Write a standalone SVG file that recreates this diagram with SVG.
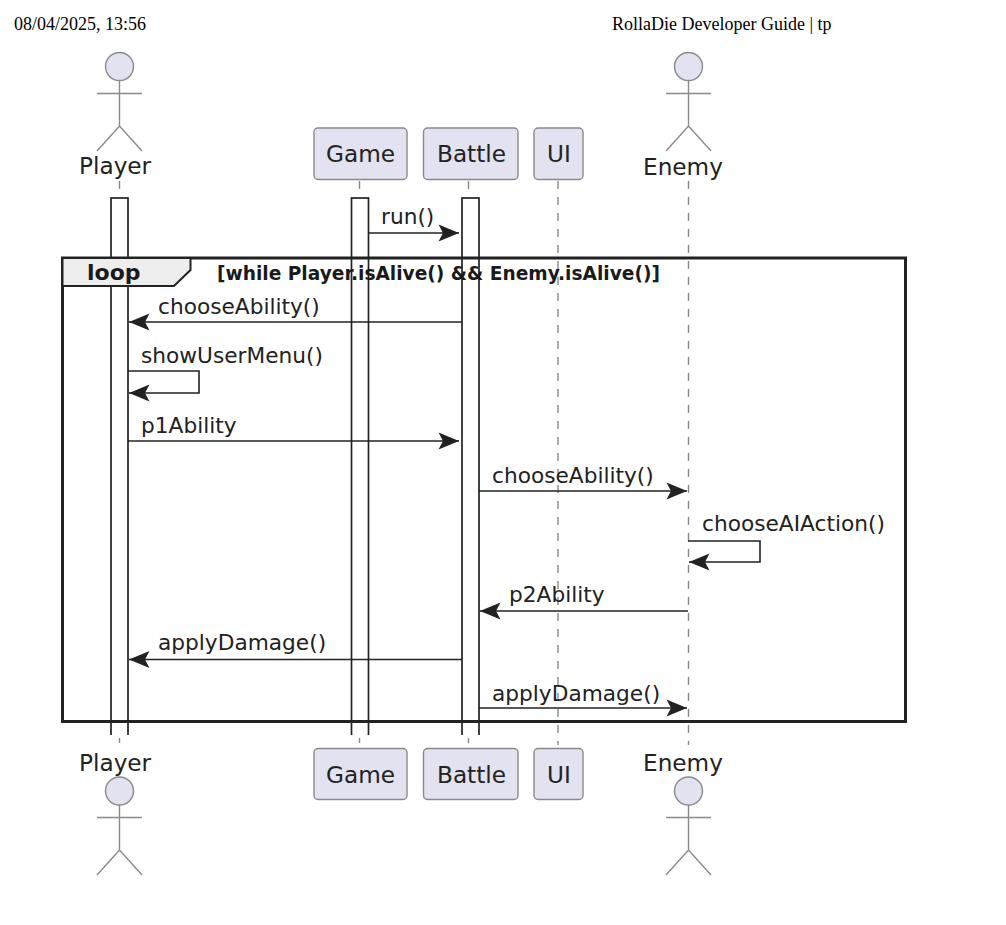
<svg xmlns="http://www.w3.org/2000/svg" width="1006" height="925" viewBox="0 0 1006 925">
<style>
text{font-family:"DejaVu Sans",sans-serif;fill:#1a1a1a}
.hd{font-family:"Liberation Serif",serif;font-size:18px;fill:#000}
.nm{font-size:23.2px;fill:#222}
.msg{font-size:21.7px;fill:#222}
.box{fill:#e2e2f0;stroke:#8a8a8a;stroke-width:1.4}
.act{fill:none;stroke:#8a8a8a;stroke-width:1.4}
.ll{fill:none;stroke:#8a8a8a;stroke-width:1.4;stroke-dasharray:8 8}
.av{fill:#fff;stroke:#222;stroke-width:1.7}
.ar{fill:none;stroke:#222;stroke-width:1.6}
</style>
<defs>
<marker id="ah" markerUnits="userSpaceOnUse" markerWidth="24" markerHeight="20" refX="21" refY="9.500" orient="auto-start-reverse" viewBox="0 0 24 20"><path d="M0.500 1L21 9.500L0.500 18L5 9.500Z" fill="#222"/></marker>
</defs>
<text class="hd" x="14" y="30">08/04/2025, 13:56</text>
<text class="hd" x="612" y="30">RollaDie Developer Guide | tp</text>
<g id="lifelines">
<path class="ll" d="M119.500 181V190M359.500 181V190M468.500 181V190M558 181V745M688.500 181V745M119.500 737V743M359.500 737V743M468.500 737V743"/>
</g>
<g id="activations">
<rect class="av" x="111" y="198" width="17" height="538"/>
<rect class="av" x="351.500" y="198" width="17" height="538"/>
<rect class="av" x="462" y="198" width="17" height="538"/>
<path fill="#fff" d="M109 735h21v3h-21zM350 735h20v3h-20zM461 735h20v3h-20z"/>
</g>
<g id="loop">
<rect x="62.500" y="258" width="843" height="463.500" fill="none" stroke="#222" stroke-width="3"/>
<path d="M62.500 258H190.500V270L174 286H62.500Z" fill="#eee" stroke="#222" stroke-width="2"/>
<text x="87" y="280" font-size="22" font-weight="700">loop</text>
<text x="217" y="280" font-size="18.600" font-weight="700">[while Player.isAlive() &amp;&amp; Enemy.isAlive()]</text>
</g>
<g id="connectors">
<path class="ar" marker-end="url(#ah)" d="M368.500 233H459"/>
<path class="ar" marker-end="url(#ah)" d="M462 322H129"/>
<path class="ar" marker-end="url(#ah)" d="M128 371H199V393H129"/>
<path class="ar" marker-end="url(#ah)" d="M128 441H459"/>
<path class="ar" marker-end="url(#ah)" d="M479 491H687"/>
<path class="ar" marker-end="url(#ah)" d="M688 541H760V562H689"/>
<path class="ar" marker-end="url(#ah)" d="M688 611H480"/>
<path class="ar" marker-end="url(#ah)" d="M462 659.500H129"/>
<path class="ar" marker-end="url(#ah)" d="M479 708H687"/>
<text class="msg" x="381" y="224">run()</text>
<text class="msg" x="158" y="314">chooseAbility()</text>
<text class="msg" x="141" y="363">showUserMenu()</text>
<text class="msg" x="141" y="433">p1Ability</text>
<text class="msg" x="492" y="483">chooseAbility()</text>
<text class="msg" x="702" y="531">chooseAIAction()</text>
<text class="msg" x="509" y="602">p2Ability</text>
<text class="msg" x="158" y="650">applyDamage()</text>
<text class="msg" x="492" y="701">applyDamage()</text>
</g>
<g id="player-top">
<circle class="box" cx="119.500" cy="66.500" r="14"/>
<path class="act" d="M119.500 80.500V126M97 93.500H142M97 151L119.500 126L142 151"/>
<text class="nm" x="79" y="174">Player</text>
</g>
<g id="game-top"><rect class="box" x="314" y="128" width="93" height="51.500" rx="4"/><text class="nm" x="326" y="162">Game</text></g>
<g id="battle-top"><rect class="box" x="423.500" y="128" width="94.500" height="51.500" rx="4"/><text class="nm" x="437" y="162">Battle</text></g>
<g id="ui-top"><rect class="box" x="534" y="128" width="49" height="51.500" rx="4"/><text class="nm" x="547" y="162">UI</text></g>
<g id="enemy-top">
<circle class="box" cx="688.500" cy="66.500" r="14"/>
<path class="act" d="M688.500 80.500V126M666 93.500H711M666 151L688.500 126L711 151"/>
<text class="nm" x="643" y="175">Enemy</text>
</g>
<g id="player-bottom">
<text class="nm" x="79" y="771">Player</text>
<circle class="box" cx="119.500" cy="791" r="14"/>
<path class="act" d="M119.500 805V850M97 817.500H142M97 875L119.500 850L142 875"/>
</g>
<g id="game-bottom"><rect class="box" x="314" y="748.500" width="93" height="51" rx="4"/><text class="nm" x="326" y="783">Game</text></g>
<g id="battle-bottom"><rect class="box" x="423.500" y="748.500" width="94.500" height="51" rx="4"/><text class="nm" x="437" y="783">Battle</text></g>
<g id="ui-bottom"><rect class="box" x="534" y="748.500" width="49" height="51" rx="4"/><text class="nm" x="547" y="783">UI</text></g>
<g id="enemy-bottom">
<text class="nm" x="643" y="771">Enemy</text>
<circle class="box" cx="688.500" cy="791" r="14"/>
<path class="act" d="M688.500 805V850M666 817.500H711M666 875L688.500 850L711 875"/>
</g>
</svg>
